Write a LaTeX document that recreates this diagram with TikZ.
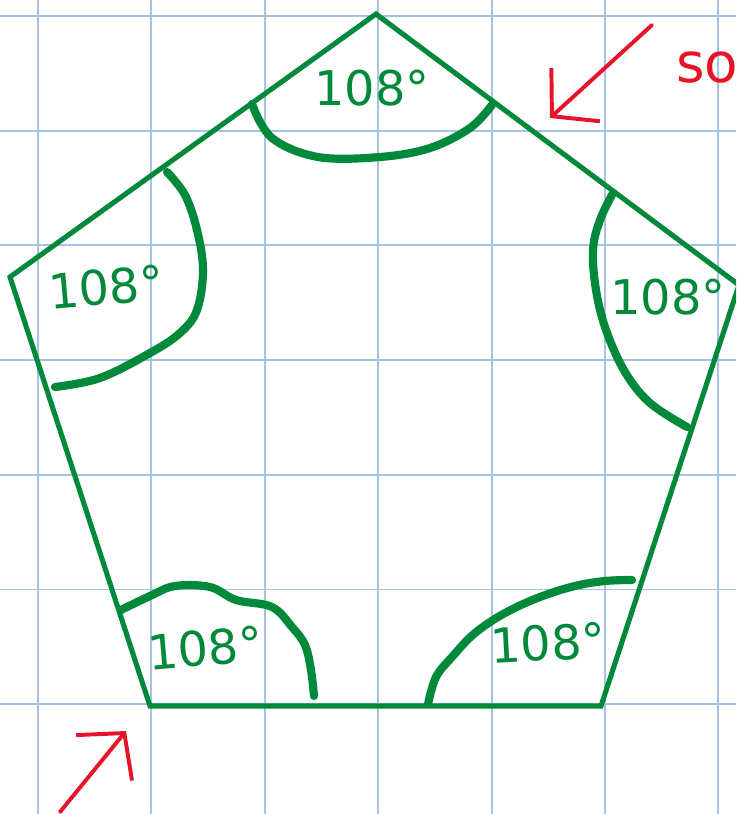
\documentclass[tikz,border=0pt]{standalone}
\usepackage{fontspec}
\setmainfont{DejaVu Sans}
\usetikzlibrary{arrows.meta}

\definecolor{penGreen}{RGB}{0,137,58}
\definecolor{penRed}{RGB}{230,20,40}
\definecolor{gridBlue}{RGB}{164,196,230}

\begin{document}
\begin{tikzpicture}[
  x=0.025cm, y=-0.025cm,
  gridline/.style={gridBlue, line width=1.4pt},
  edge/.style={penGreen, line width=3.6pt, line join=miter},
  anglearc/.style={penGreen, line width=5.8pt, line cap=round, line join=round},
  anglelabel/.style={text=penGreen, font=\fontsize{34}{34}\selectfont, inner sep=0pt},
  pointer/.style={penRed, line width=2.8pt, line cap=round,
                  -{Straight Barb[length=8mm, width=18mm, line width=2.8pt]}},
  remark/.style={text=penRed, font=\fontsize{39}{39}\selectfont, inner sep=0pt, anchor=west},
]
  \useasboundingbox (0,0) rectangle (736,814);
  \clip (0,0) rectangle (736,814);
  \fill[white] (0,0) rectangle (736,814);

  % squared paper
  \foreach \k in {0,...,6} {
    \draw[gridline] ({38+113.4*\k},0) -- ({38+113.4*\k},814);
    \draw[gridline] (0,{16+114.7*\k}) -- (736,{16+114.7*\k});
  }

  % the pentagon
  \coordinate (top) at (376,14);
  \coordinate (right) at (739,285);
  \coordinate (botright) at (601,706);
  \coordinate (botleft) at (150,706);
  \coordinate (left) at (10,277);
  \draw[edge] (top) -- (right) -- (botright) -- (botleft) -- (left) -- cycle;

  % interior angle marks
  \draw[anglearc] plot[smooth, tension=0.6] coordinates
    {(252,104) (272,138) (318,157) (380,157) (430,148) (470,128) (492,105)};
  \draw[anglearc] plot[smooth, tension=0.6] coordinates
    {(167,172) (185,195) (197,230) (203,270) (197,310) (180,333) (150,353) (100,378) (55,387)};
  \draw[anglearc] plot[smooth, tension=0.6] coordinates
    {(613,193) (600,220) (593,250) (596,290) (606,330) (625,372) (650,403) (687,427)};
  \draw[anglearc] plot[smooth, tension=0.6] coordinates
    {(121,610) (150,596) (175,586) (210,587) (236,600) (272,607) (292,627) (305,645) (311,670) (314,696)};
  \draw[anglearc] plot[smooth, tension=0.6] coordinates
    {(428,704) (436,677) (452,657) (475,633) (505,613) (540,597) (575,586) (605,581) (632,580)};

  \node[anglelabel] (atop) at (372,88) {108°};
  \node[anglelabel, rotate=5] (aleft) at (106,287) {108°};
  \node[anglelabel] (aright) at (668,297) {108°};
  \node[anglelabel, rotate=5] (abotleft) at (205,648) {108°};
  \node[anglelabel, rotate=3] (abotright) at (548,643) {108°};

  % red notes
  \coordinate (ptail) at (652,25);
  \coordinate (phead) at (550,118);
  \draw[pointer] (ptail) -- (phead);
  \node[remark] (so) at (676,68) {so};
  \coordinate (qtail) at (60,812);
  \coordinate (qhead) at (126,731);
  \draw[pointer] (qtail) -- (qhead);
\end{tikzpicture}
\end{document}
